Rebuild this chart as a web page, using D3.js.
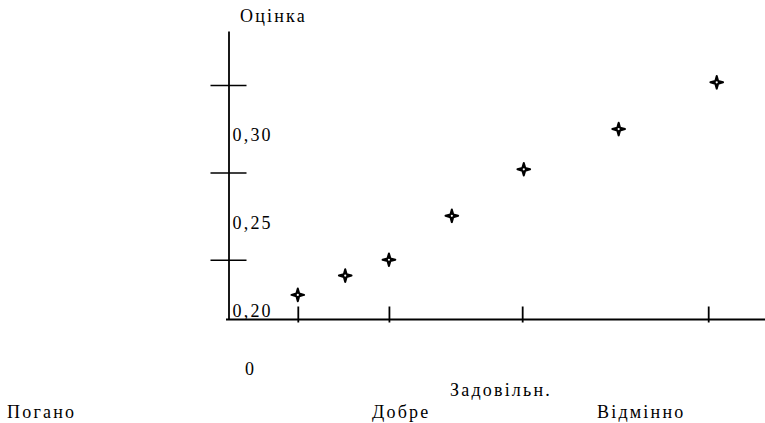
<!DOCTYPE html>
<html>
<head>
<meta charset="utf-8">
<script src="https://cdn.jsdelivr.net/npm/d3@7"></script>
<style>
  html, body { margin: 0; padding: 0; background: #fff; }
</style>
</head>
<body>
<svg width="765" height="423"></svg>
<script>
// chart data
var yLabelValues = [0.20, 0.25, 0.30];
var yLabelText = ["0,20", "0,25", "0,30"];
var yTickValues = [0.229, 0.2787, 0.3285];
var xTickValues = [13, 30.1, 55.1, 90];
var xPoints = [13, 21.9, 30.1, 41.9, 55.4, 73.2, 91.6];
var yPoints = [0.209, 0.220, 0.229, 0.254, 0.2805, 0.3034, 0.330];

// category captions, scattered under the axis like in the original
var categories = [
  {name: "Погано", x: 7, y: 418},
  {name: "Добре", x: 372, y: 418},
  {name: "Задовільн.", x: 450, y: 396},
  {name: "Відмінно", x: 597, y: 418}
];

var svg = d3.select("svg");

var x = d3.scaleLinear().domain([0, 100]).range([228.5, 761.5]);
var y = d3.scaleLinear().domain([0.195, 0.3592]).range([319.5, 31]);

// y axis line + long cross ticks
var yAxis = d3.axisLeft(y).tickValues(yTickValues).tickSize(0).tickFormat("");
var gy = svg.append("g").attr("transform", "translate(" + x(0) + ",0)").call(yAxis);
gy.select(".domain").attr("stroke", "#000").attr("stroke-width", 1.8);
gy.selectAll(".tick line")
  .attr("x1", -18).attr("x2", 18)
  .attr("stroke", "#000").attr("stroke-width", 1.5);

// x axis line + short ticks sticking up
var xAxis = d3.axisBottom(x).tickValues(xTickValues).tickSize(0).tickFormat("");
var gx = svg.append("g").attr("transform", "translate(0," + y.range()[0] + ")").call(xAxis);
gx.select(".domain").remove();
gx.append("line")
  .attr("x1", x(0) - 2.5).attr("x2", 765)
  .attr("stroke", "#000").attr("stroke-width", 1.8);
gx.selectAll(".tick line")
  .attr("y1", -13).attr("y2", 3)
  .attr("stroke", "#000").attr("stroke-width", 1.8);

// all text goes through this so the serif face sticks
function label(sel){
  return sel.style("font-family", "'Liberation Serif', 'DejaVu Serif'")
    .style("font-size", "18px")
    .style("letter-spacing", "2.2px")
    .attr("fill", "#000");
}

// y labels, sitting just right of the axis
svg.append("g").selectAll("text")
  .data(yLabelValues)
  .enter()
  .append("text")
  .call(label)
  .attr("x", x(0) + 4)
  .attr("y", function(d){ return y(d) + 6; })
  .text(function(d, i){ return yLabelText[i]; });

// axis title and origin
svg.append("text").call(label).attr("x", 240).attr("y", 22).text("Оцінка");
svg.append("text").call(label).attr("x", 245).attr("y", 375).text("0");

svg.append("g").selectAll("text")
  .data(categories)
  .enter()
  .append("text")
  .call(label)
  .attr("x", function(d){ return d.x; })
  .attr("y", function(d){ return d.y; })
  .text(function(d){ return d.name; });

// four pointed star marker
var star4 = {
  draw: function(context, size){
    var r = Math.sqrt(size) / 2, k = r * 0.22;
    context.moveTo(0, -r);
    context.lineTo(k, -k);
    context.lineTo(r, 0);
    context.lineTo(k, k);
    context.lineTo(0, r);
    context.lineTo(-k, k);
    context.lineTo(-r, 0);
    context.lineTo(-k, -k);
    context.closePath();
  }
};

var marks = svg.append("g").selectAll("g")
  .data(xPoints)
  .enter()
  .append("g")
  .attr("transform", function(d, i){ return "translate(" + x(d) + "," + y(yPoints[i]) + ")"; });

marks.append("path")
  .attr("d", d3.symbol().type(star4).size(160))
  .attr("fill", "#000")
  .attr("stroke", "#000")
  .attr("stroke-width", 2)
  .attr("stroke-linejoin", "round");

marks.append("circle")
  .attr("r", 1.1)
  .attr("fill", "#fff");
</script>
</body>
</html>
